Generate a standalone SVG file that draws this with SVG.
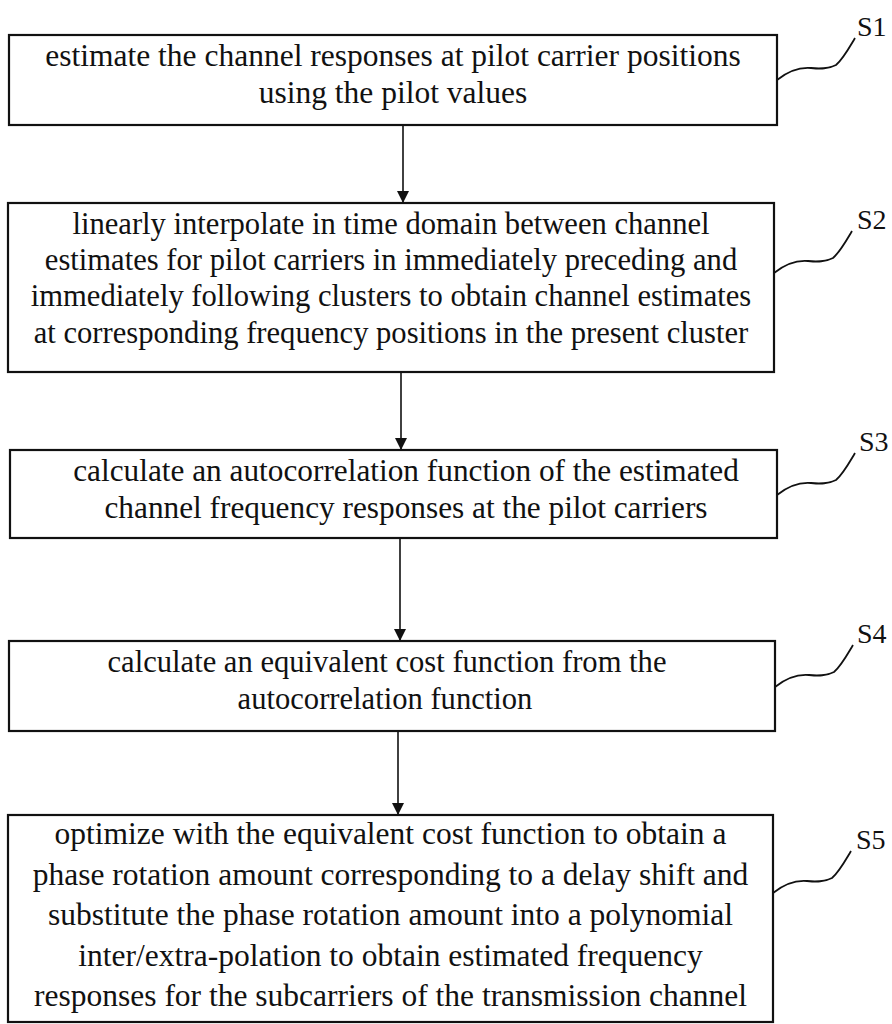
<svg xmlns="http://www.w3.org/2000/svg" width="892" height="1024" viewBox="0 0 892 1024">
  <style>
    .box { fill: #ffffff; stroke: #111111; stroke-width: 2.2; }
    .t { font-family: "Liberation Serif", "Times New Roman", serif; font-size: 31.5px; fill: #111111; text-anchor: middle; }
    .t2 { font-family: "Liberation Serif", "Times New Roman", serif; font-size: 30.6px; fill: #111111; text-anchor: middle; }
    .t3 { font-family: "Liberation Serif", "Times New Roman", serif; font-size: 31.3px; fill: #111111; text-anchor: middle; }
    .t4 { font-family: "Liberation Serif", "Times New Roman", serif; font-size: 30.6px; fill: #111111; text-anchor: middle; }
    .lbl { font-family: "Liberation Serif", "Times New Roman", serif; font-size: 28px; fill: #111111; }
    .conn { stroke: #111111; stroke-width: 1.6; fill: none; }
    .lead { stroke: #111111; stroke-width: 1.8; fill: none; }
  </style>
  <defs>
    <marker id="ah" markerWidth="12" markerHeight="12" refX="12" refY="6" orient="auto" markerUnits="userSpaceOnUse">
      <path d="M0,0 L12,6 L0,12 Z" fill="#111111"/>
    </marker>
  </defs>
  <rect x="0" y="0" width="892" height="1024" fill="#ffffff"/>

  <g id="connectors">
    <line class="conn" x1="403" y1="125" x2="403" y2="203" marker-end="url(#ah)"/>
    <line class="conn" x1="401" y1="372" x2="401" y2="450" marker-end="url(#ah)"/>
    <line class="conn" x1="400" y1="538" x2="400" y2="641" marker-end="url(#ah)"/>
    <line class="conn" x1="398" y1="731" x2="398" y2="815" marker-end="url(#ah)"/>
  </g>

  <g id="S1">
    <rect class="box" x="9" y="35" width="768" height="90"/>
    <text class="t" x="393" y="66">estimate the channel responses at pilot carrier positions</text>
    <text class="t" x="393" y="103">using the pilot values</text>
    <path class="lead" d="M777,80 c10,-8 22,-13 34,-12 c10,1 17,1 25,-3 c7,-6 13,-17 19,-27"/>
    <text class="lbl" x="857" y="36">S1</text>
  </g>

  <g id="S2">
    <rect class="box" x="8" y="203" width="766" height="169"/>
    <text class="t2" x="391" y="234">linearly interpolate in time domain between channel</text>
    <text class="t2" x="391" y="270">estimates for pilot carriers in immediately preceding and</text>
    <text class="t2" x="391" y="306">immediately following clusters to obtain channel estimates</text>
    <text class="t2" x="391" y="343">at corresponding frequency positions in the present cluster</text>
    <path class="lead" d="M774,273 c10,-8 22,-13 34,-12 c10,1 17,1 25,-3 c7,-6 13,-17 19,-27"/>
    <text class="lbl" x="857" y="229">S2</text>
  </g>

  <g id="S3">
    <rect class="box" x="10" y="450" width="767" height="88"/>
    <text class="t3" x="406" y="481">calculate an autocorrelation function of the estimated</text>
    <text class="t3" x="406" y="518">channel frequency responses at the pilot carriers</text>
    <path class="lead" d="M777,495 c10,-8 22,-13 34,-12 c10,1 17,1 25,-3 c7,-6 13,-17 19,-27"/>
    <text class="lbl" x="859" y="451">S3</text>
  </g>

  <g id="S4">
    <rect class="box" x="9" y="641" width="766" height="90"/>
    <text class="t4" x="387" y="672">calculate an equivalent cost function from the</text>
    <text class="t4" x="385" y="709">autocorrelation function</text>
    <path class="lead" d="M775,687 c10,-8 22,-13 34,-12 c10,1 17,1 25,-3 c7,-6 13,-17 19,-27"/>
    <text class="lbl" x="857" y="643">S4</text>
  </g>

  <g id="S5">
    <rect class="box" x="8" y="815" width="765" height="207"/>
    <text class="t" x="390.5" y="844">optimize with the equivalent cost function to obtain a</text>
    <text class="t" x="390.5" y="885">phase rotation amount corresponding to a delay shift and</text>
    <text class="t" x="390.5" y="925">substitute the phase rotation amount into a polynomial</text>
    <text class="t" x="390.5" y="966">inter/extra-polation to obtain estimated frequency</text>
    <text class="t" x="390.5" y="1006">responses for the subcarriers of the transmission channel</text>
    <path class="lead" d="M773,893 c10,-8 22,-13 34,-12 c10,1 17,1 25,-3 c7,-6 13,-17 19,-27"/>
    <text class="lbl" x="856" y="849">S5</text>
  </g>
</svg>
